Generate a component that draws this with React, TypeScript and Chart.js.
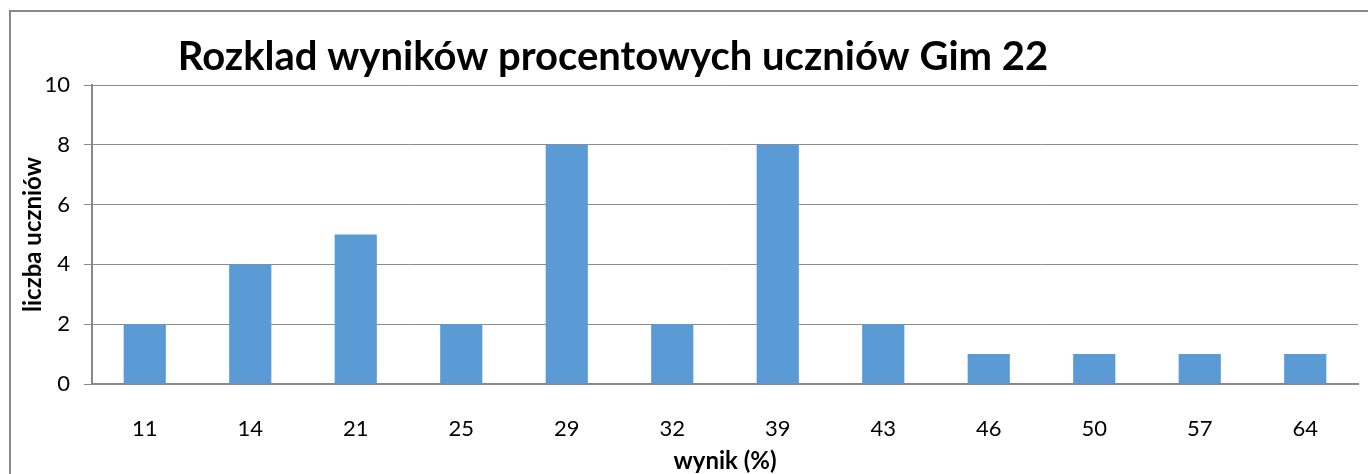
import React, { useEffect, useRef } from "react";
import { Chart, registerables } from "chart.js";

Chart.register(...registerables);

const categories = ["11", "14", "21", "25", "29", "32", "39", "43", "46", "50", "57", "64"];
const counts = [2, 4, 5, 2, 8, 2, 8, 2, 1, 1, 1, 1];
const yTicks = [0, 2, 4, 6, 8, 10];
const titleText = "Rozklad wyników procentowych uczniów Gim 22";
const xTitle = "wynik (%)";
const yTitle = "liczba uczniów";

const FONT = "Lato, 'Open Sans', sans-serif";

const titlePlugin = {
  id: "customTitle",
  afterDraw(chart: any) {
    const ctx = chart.ctx;
    ctx.save();
    ctx.font = `bold 40px ${FONT}`;
    ctx.fillStyle = "#000";
    ctx.textAlign = "center";
    ctx.textBaseline = "alphabetic";
    ctx.fillText(titleText, 613, 70);
    ctx.restore();
  },
};

export default function App() {
  const ref = useRef<HTMLCanvasElement>(null);
  useEffect(() => {
    if (!ref.current) return;
    const chart = new Chart(ref.current, {
      type: "bar",
      data: {
        labels: categories,
        datasets: [
          {
            data: counts,
            backgroundColor: "#5B9BD5",
            borderWidth: 0,
            barPercentage: 0.4,
            categoryPercentage: 1,
          },
        ],
      },
      plugins: [titlePlugin],
      options: {
        animation: false,
        responsive: false,
        layout: { padding: { top: 85, right: 10, left: 0, bottom: 0 } },
        plugins: { legend: { display: false }, title: { display: false }, tooltip: { enabled: false } },
        scales: {
          x: {
            grid: { display: false, drawTicks: false },
            border: { display: true, color: "#888", width: 2 },
            ticks: { color: "#000", font: { family: FONT, size: 22 }, padding: 32, maxRotation: 0 },
            title: { display: true, text: xTitle, color: "#000", font: { family: FONT, size: 24, weight: "bold" }, padding: { top: 0, bottom: -2 } },
            afterFit(scale: any) {
              scale.height = 90;
            },
          },
          y: {
            min: 0,
            max: 10,
            afterBuildTicks(scale: any) {
              scale.ticks = yTicks.map((v) => ({ value: v }));
            },
            grid: { color: "#8c8c8c", lineWidth: 1, tickLength: 8, drawTicks: true },
            border: { display: true, color: "#888", width: 2 },
            ticks: { color: "#000", font: { family: FONT, size: 22 }, padding: 14 },
            title: { display: true, text: yTitle, color: "#000", font: { family: FONT, size: 24, weight: "bold" }, padding: { top: 19, bottom: 0 } },
            afterFit(scale: any) {
              scale.width = 92;
            },
          },
        },
      },
    });
    return () => chart.destroy();
  }, []);
  return (
    <div style={{ position: "absolute", left: 0, top: 0, width: 1368, height: 474, background: "#fff", overflow: "hidden" }}>
      <canvas ref={ref} width={1368} height={474} style={{ position: "absolute", left: 0, top: 0 }} />
      <div style={{ position: "absolute", left: 9, top: 10, width: 1400, height: 500, border: "2px solid #888", boxSizing: "border-box", pointerEvents: "none" }} />
    </div>
  );
}
